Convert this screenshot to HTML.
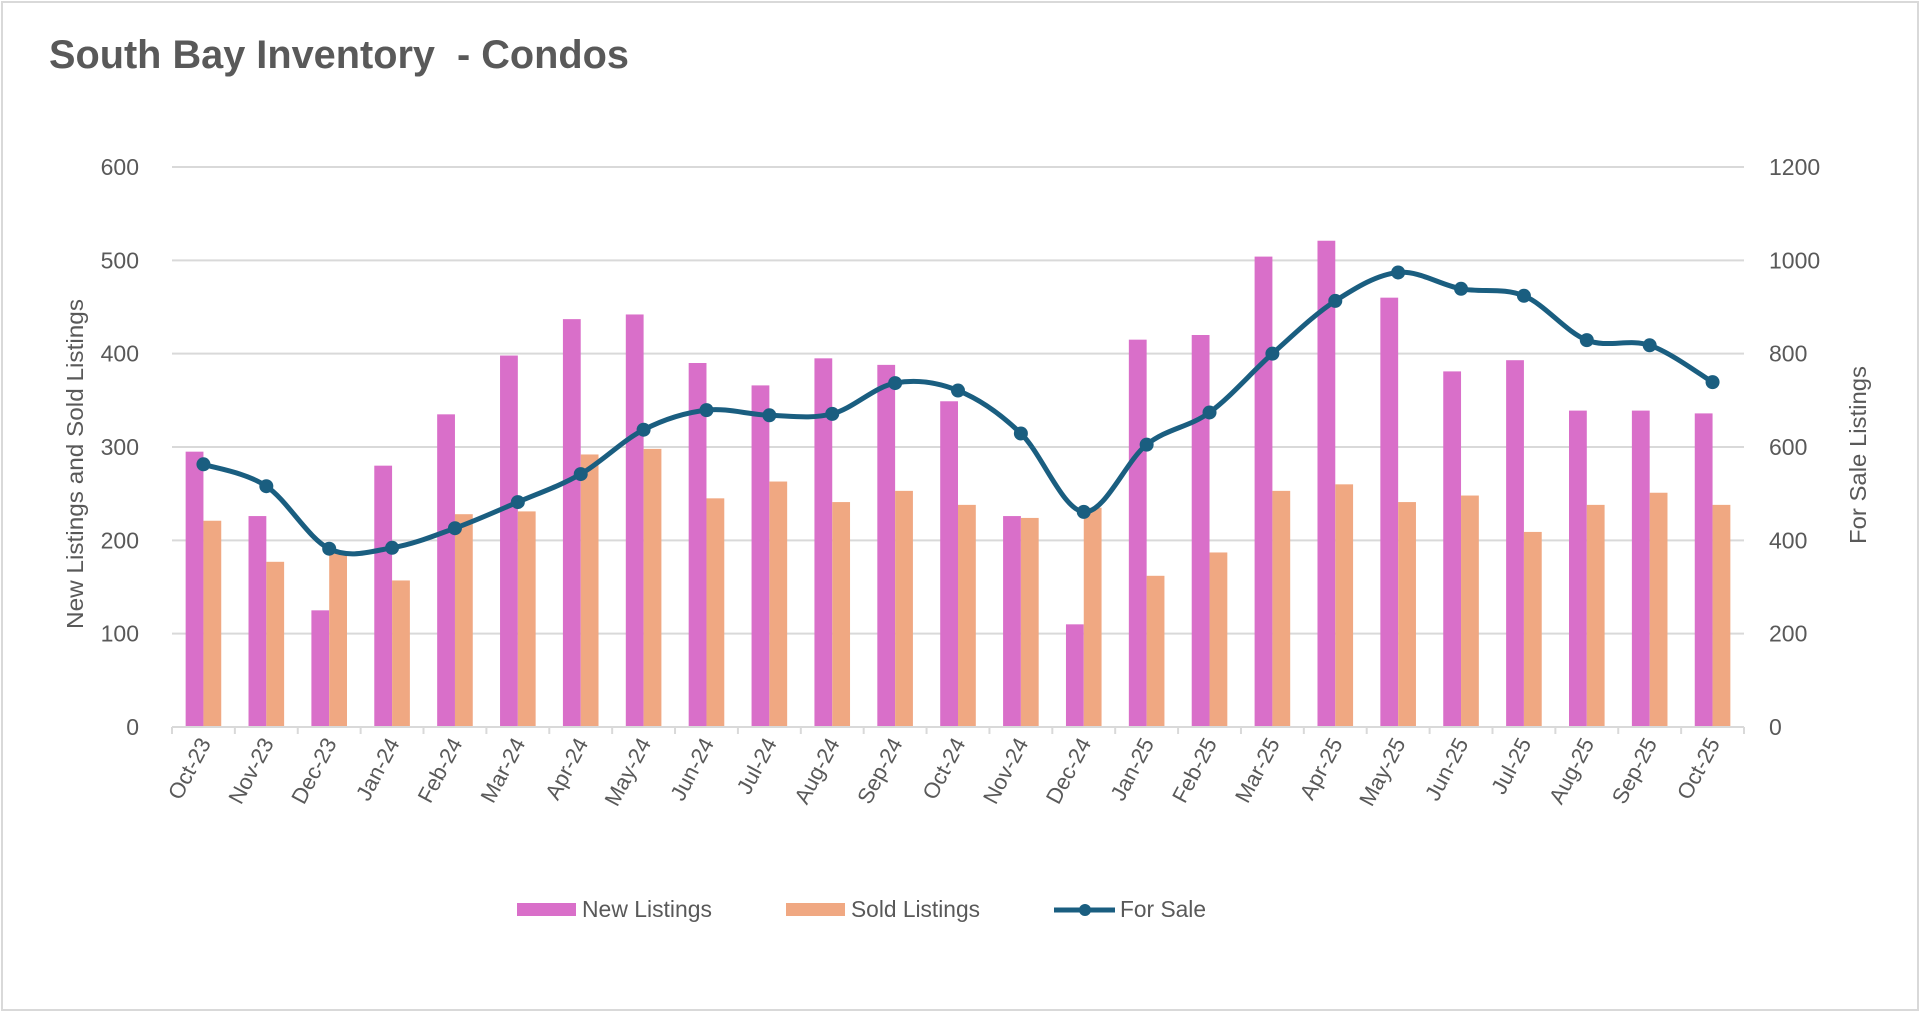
<!DOCTYPE html>
<html><head><meta charset="utf-8"><style>
html,body{margin:0;padding:0;background:#fff;}
svg{display:block;font-family:"Liberation Sans",Arial,sans-serif;}
</style></head><body>
<svg id="chart" width="1920" height="1013" viewBox="0 0 1920 1013">
<rect x="2" y="2" width="1916" height="1008" fill="#fff" stroke="#d9d9d9" stroke-width="2"/>
<text x="49" y="68" font-size="40" font-weight="bold" fill="#595959" textLength="580" lengthAdjust="spacingAndGlyphs">South Bay Inventory&#160; - Condos</text>
<g id="grid"></g><g id="bars"></g><g id="line"></g><g id="axes"></g>
<text transform="translate(83,464) rotate(-90)" text-anchor="middle" font-size="23" fill="#595959" textLength="330" lengthAdjust="spacingAndGlyphs">New Listings and Sold Listings</text>
<text transform="translate(1866,455) rotate(-90)" text-anchor="middle" font-size="23" fill="#595959" textLength="178" lengthAdjust="spacingAndGlyphs">For Sale Listings</text>
<g>
<rect x="517" y="903" width="59" height="13" fill="#d96fc9"/>
<text x="582" y="917" font-size="23" fill="#595959" textLength="130" lengthAdjust="spacingAndGlyphs">New Listings</text>
<rect x="786" y="903" width="59" height="13" fill="#f0a882"/>
<text x="851" y="917" font-size="23" fill="#595959" textLength="129" lengthAdjust="spacingAndGlyphs">Sold Listings</text>
<line x1="1054" y1="910" x2="1115" y2="910" stroke="#1a5e80" stroke-width="5"/>
<circle cx="1085" cy="910" r="6" fill="#1a5e80"/>
<text x="1120" y="917" font-size="23" fill="#595959" textLength="86" lengthAdjust="spacingAndGlyphs">For Sale</text>
</g>
</svg>
<script>
const categories=["Oct-23","Nov-23","Dec-23","Jan-24","Feb-24","Mar-24","Apr-24","May-24","Jun-24","Jul-24","Aug-24","Sep-24","Oct-24","Nov-24","Dec-24","Jan-25","Feb-25","Mar-25","Apr-25","May-25","Jun-25","Jul-25","Aug-25","Sep-25","Oct-25"];
const newListings=[295,226,125,280,335,398,437,442,390,366,395,388,349,226,110,415,420,504,521,460,381,393,339,339,336];
const soldListings=[221,177,187,157,228,231,292,298,245,263,241,253,238,224,235,162,187,253,260,241,248,209,238,251,238];
const forSale=[563,516,382,384,426,482,542,637,679,668,671,737,721,629,461,605,674,800,913,974,939,924,829,818,739];
const leftTicks=[0,100,200,300,400,500,600];
const rightTicks=[0,200,400,600,800,1000,1200];

const NS="http://www.w3.org/2000/svg";
const X0=172,X1=1744,Y0=727,Y1=167;
const band=(X1-X0)/categories.length;
const yL=v=>Y0-(v/600)*(Y0-Y1);
const yR=v=>Y0-(v/1200)*(Y0-Y1);
const xC=i=>X0+band*(i+0.5);
function mk(tag,attrs,parent,txt){const e=document.createElementNS(NS,tag);for(const k in attrs)e.setAttribute(k,attrs[k]);if(txt!==undefined)e.textContent=txt;parent.appendChild(e);return e;}
const grid=document.getElementById('grid'),bars=document.getElementById('bars'),line=document.getElementById('line'),axes=document.getElementById('axes');

leftTicks.forEach((t,i)=>{
  if(t>0){const g=mk('line',{x1:X0,x2:X1,y1:yL(t),y2:yL(t),stroke:'#d9d9d9','stroke-width':2},grid);
  
  }
  const tl=mk('text',{x:139,y:yL(t)+8,'text-anchor':'end','font-size':23,fill:'#595959'},axes,t);
  
  
});
rightTicks.forEach(t=>{
  const tr=mk('text',{x:1769,y:yR(t)+8,'font-size':23,fill:'#595959'},axes,t);
  
  
});
const ax=mk('line',{x1:X0,x2:X1,y1:Y0,y2:Y0,stroke:'#d9d9d9','stroke-width':2},axes);


for(let i=0;i<=categories.length;i++){
  const tk=mk('line',{x1:X0+band*i,x2:X0+band*i,y1:Y0,y2:Y0+7,stroke:'#d9d9d9','stroke-width':2},axes);
  
  
}
const bw=17.8;
categories.forEach((c,i)=>{
  const cx=xC(i);
  const b1=mk('rect',{x:cx-bw,y:yL(newListings[i]),width:bw,height:Y0-yL(newListings[i]),fill:'#d96fc9'},bars);
  
  
  const b2=mk('rect',{x:cx,y:yL(soldListings[i]),width:bw,height:Y0-yL(soldListings[i]),fill:'#f0a882'},bars);
  
  
  const lb=mk('text',{transform:`translate(${cx+8},${Y0+16}) rotate(-62)`,'text-anchor':'end','font-size':22,fill:'#595959'},axes,c);
  
  
});
const pts=forSale.map((v,i)=>[xC(i),yR(v)]);
let d=`M${pts[0][0]},${pts[0][1]}`;
const tsn=0.5/3;
for(let i=0;i<pts.length-1;i++){
  const p0=pts[Math.max(0,i-1)],p1=pts[i],p2=pts[i+1],p3=pts[Math.min(pts.length-1,i+2)];
  const c1=[p1[0]+(p2[0]-p0[0])*tsn,p1[1]+(p2[1]-p0[1])*tsn];
  const c2=[p2[0]-(p3[0]-p1[0])*tsn,p2[1]-(p3[1]-p1[1])*tsn];
  d+=` C${c1[0]},${c1[1]} ${c2[0]},${c2[1]} ${p2[0]},${p2[1]}`;
}
const path=mk('path',{d:d,fill:'none',stroke:'#1a5e80','stroke-width':5,'stroke-linejoin':'round'},line);


pts.forEach(p=>{
  const m=mk('circle',{cx:p[0],cy:p[1],r:7,fill:'#1a5e80'},line);
  
  
});
</script>
</body></html>
